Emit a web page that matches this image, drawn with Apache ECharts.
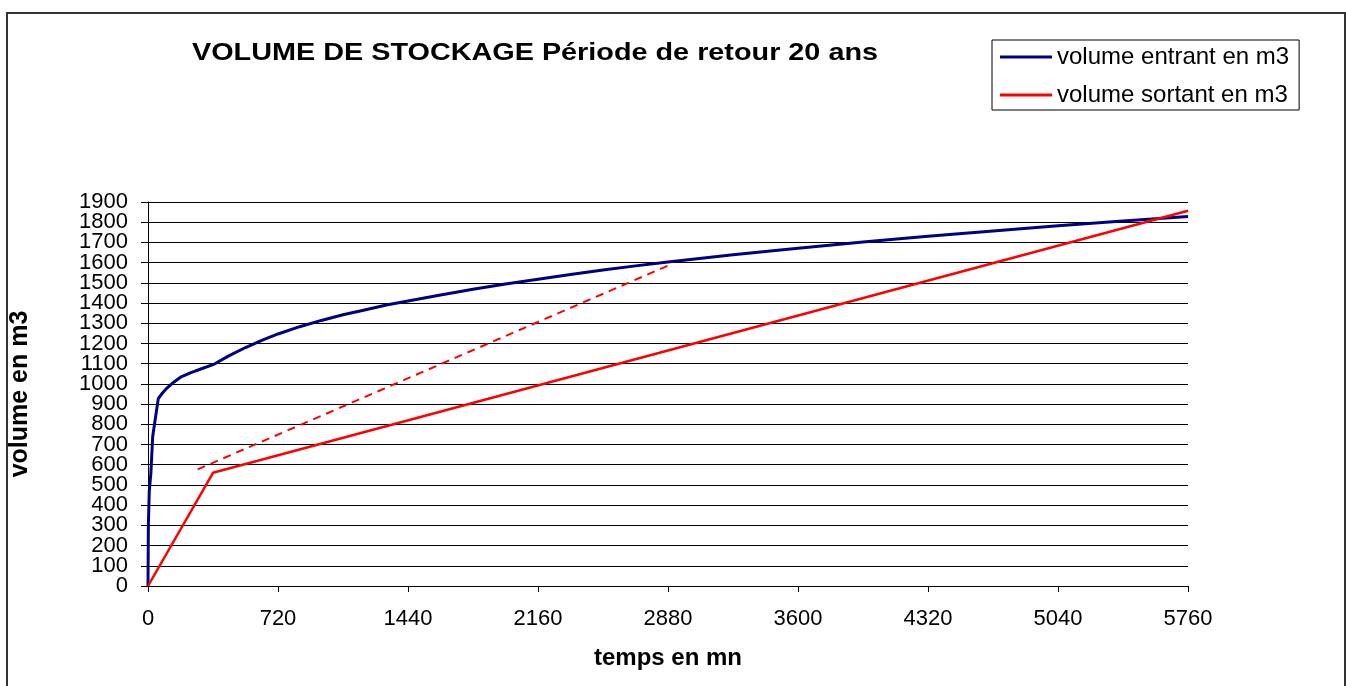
<!DOCTYPE html>
<html>
<head>
<meta charset="utf-8">
<script src="https://cdn.jsdelivr.net/npm/echarts@6/dist/echarts.min.js"></script>
<style>
html,body{margin:0;padding:0;background:#fff;}
#chart{width:1346px;height:686px;}
</style>
</head>
<body>
<div id="chart"></div>
<script>
const chartTitle = 'VOLUME DE STOCKAGE Période de retour 20 ans';
const seriesNames = ['volume entrant en m3', 'volume sortant en m3'];
const xAxisName = 'temps en mn';
const yAxisName = 'volume en m3';

const inflowTime = [0, 2, 7, 16, 26, 57, 80, 100, 146, 180, 238, 300, 360, 450, 540, 630, 720, 840, 960, 1080, 1200, 1320, 1440, 1620, 1800, 1980, 2160, 2340, 2520, 2700, 2880, 3240, 3600, 3960, 4320, 4680, 5040, 5400, 5760];
const inflowVolume = [0, 300, 470, 560, 740, 927, 955, 975, 1011, 1033, 1056, 1076, 1095, 1140, 1180, 1215, 1247, 1283, 1314, 1342, 1366, 1390, 1410, 1440, 1468, 1494, 1518, 1541, 1563, 1584, 1603, 1639, 1671, 1702, 1731, 1757, 1782, 1806, 1828];

const outflowTime = [0, 360, 5760];
const outflowVolume = [0, 560, 1857];

const dashTime = [275, 2880];
const dashVolume = [577, 1585];

const xMin = 0, xMax = 5760, xStep = 720;
const yMin = 0, yMax = 1900, yStep = 100;
const yTickLabels = ['0', '100', '200', '300', '400', '500', '600', '700', '800', '900', '1000', '1100', '1200', '1300', '1400', '1500', '1600', '1700', '1800', '1900'];

const pairs = (xs, ys) => xs.map((x, i) => [x, ys[i]]);

const chart = echarts.init(document.getElementById('chart'), null, {renderer: 'canvas'});
const font = '"Liberation Sans", Arial, sans-serif';

const baseGraphic = [
  {type: 'rect', z: 0, silent: true, shape: {x: 7, y: 13, width: 1338, height: 700},
   style: {fill: 'none', stroke: '#333', lineWidth: 2}},
  {type: 'text', x: 535, y: 53, scaleX: 1.2, z: 10,
   style: {text: chartTitle, x: 0, y: 0, align: 'center', verticalAlign: 'middle',
           fontFamily: font, fontWeight: 'bold', fontSize: 24, fill: '#000'}}
];

chart.setOption({
  animation: false,
  backgroundColor: '#ffffff',
  textStyle: {fontFamily: font, color: '#000'},
  graphic: baseGraphic,
  legend: {
    data: seriesNames,
    orient: 'vertical',
    left: 992, top: 40,
    padding: [4, 10, 2, 8],
    backgroundColor: '#fff',
    borderColor: '#000', borderWidth: 1,
    itemWidth: 52, itemHeight: 3, itemGap: 12,
    icon: 'rect',
    textStyle: {fontFamily: font, fontSize: 24, color: '#000', lineHeight: 26, padding: [0, 0, 0, 0]},
    selectedMode: false
  },
  grid: {left: 147, right: 158, top: 202, bottom: 100, containLabel: false},
  xAxis: {
    type: 'value', min: xMin, max: xMax, interval: xStep,
    name: xAxisName, nameLocation: 'middle', nameGap: 60,
    nameTextStyle: {fontFamily: font, fontWeight: 'bold', fontSize: 24, color: '#000'},
    axisLine: {show: true, onZero: false, lineStyle: {color: '#000', width: 1}},
    axisTick: {show: true, length: 6, inside: false, lineStyle: {color: '#000'}},
    axisLabel: {fontFamily: font, fontSize: 22, color: '#000', margin: 22,
                showMinLabel: true, showMaxLabel: true, hideOverlap: false,
                formatter: v => String(v)},
    splitLine: {show: false}
  },
  yAxis: {
    type: 'value', min: yMin, max: yMax, interval: yStep,
    name: yAxisName, nameLocation: 'middle', nameGap: 115, nameRotate: 90,
    nameTextStyle: {fontFamily: font, fontWeight: 'bold', fontSize: 25, color: '#000'},
    axisLine: {show: true, lineStyle: {color: '#000', width: 1}},
    axisTick: {show: true, length: 7, inside: false, lineStyle: {color: '#000'}},
    axisLabel: {show: false},
    splitLine: {show: true, lineStyle: {color: '#000', width: 1}}
  },
  series: [
    {name: seriesNames[0], type: 'line', data: pairs(inflowTime, inflowVolume),
     symbol: 'none', smooth: false, z: 3,
     lineStyle: {color: '#000080', width: 3}, itemStyle: {color: '#000080'}},
    {name: seriesNames[1], type: 'line', data: pairs(outflowTime, outflowVolume),
     symbol: 'none', smooth: false, z: 4,
     lineStyle: {color: '#ff0000', width: 2.5}, itemStyle: {color: '#ff0000'}},
    {name: 'pente', type: 'line', data: pairs(dashTime, dashVolume),
     symbol: 'none', smooth: false, z: 4,
     lineStyle: {color: '#ff0000', width: 2, type: [8, 6]}, itemStyle: {color: '#ff0000'}}
  ]
});

// y tick labels placed through the axis scale (ECharts hides alternating labels when they are this tall)
const axisX = chart.convertToPixel({xAxisIndex: 0}, xMin);
const labelGraphic = yTickLabels.map(t => ({
  type: 'text', z: 10, silent: true,
  x: axisX - 20, y: chart.convertToPixel({yAxisIndex: 0}, Number(t)),
  style: {text: t, align: 'right', verticalAlign: 'middle',
          fontFamily: font, fontSize: 22, fill: '#000'}
}));
chart.setOption({graphic: baseGraphic.concat(labelGraphic)});
</script>
</body>
</html>
